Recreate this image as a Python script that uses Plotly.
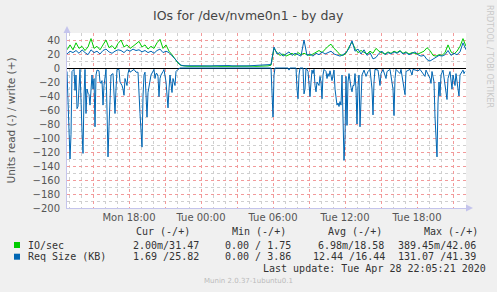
import numpy as np
import pandas as pd
import plotly.graph_objects as go

# ---------------- data ----------------
start = pd.Timestamp("2020-04-27 12:50")

# write side (+), sampled every 15 minutes from start
write_io = [26, 33, 26, 36, 28, 31, 25, 30, 42, 28, 31, 26, 33, 40, 29, 32, 27, 35, 40, 30,
            33, 28, 31, 35, 38, 30, 33, 27, 31, 28, 36, 41, 28, 33, 24, 19, 12, 7, 3.5,
            2.5, 2.6, 2.4, 2.5, 2.7, 2.5, 2.4, 2.6, 2.5, 2.3, 2.5, 2.6, 2.4, 2.5, 2.5, 2.7,
            2.4, 2.5, 2.6, 2.4, 2.5, 2.3, 2.5, 2.6, 2.4, 2.5, 2.6, 2.8, 3.0, 4,
            28, 22, 18, 20, 17, 19, 21, 18, 22, 19, 21, 19, 18, 20, 23, 25, 22, 27, 31, 34,
            28, 24, 19, 18, 21, 30, 37, 28, 22, 25, 23, 20, 24, 21, 28, 24, 22, 20, 23, 21,
            24, 22, 25, 21, 23, 20, 22, 21, 20, 22, 24, 29, 25, 18, 17, 19, 18, 22, 33, 23,
            20, 24, 31, 42, 31]
write_req = [20, 24, 22, 25, 21, 26, 22, 19, 26, 22, 24, 20, 25, 27, 23, 21, 24, 26, 25, 22,
             26, 24, 27, 25, 26, 23, 25, 22, 24, 21, 25, 27, 22, 24, 22, 18, 13, 8, 4,
             3.2, 3.4, 3.1, 3.3, 3.5, 3.2, 3.1, 3.4, 3.3, 3.0, 3.2, 3.4, 3.1, 3.3, 3.2, 3.5,
             3.1, 3.3, 3.4, 3.2, 3.3, 3.1, 3.2, 3.4, 3.2, 3.3, 3.5, 3.6, 3.8, 5,
             30, 20, 22, 17, 20, 23, 18, 21, 19, 17, 40, 18, 20, 17, 21, 19, 23, 20, 22, 24,
             20, 18, 17, 19, 22, 28, 39, 24, 27, 20, 26, 18, 22, 13, 15, 21, 24, 19, 22, 20,
             23, 21, 24, 20, 22, 19, 21, 23, 19, 17, 18, 12, 10, 13, 15, 18, 17, 19, 25, 18,
             21, 19, 23, 36, 26]

# read side (-) of request size, sample index in 5-minute steps from start
read_step = [0, 2, 3, 4, 5, 7, 8, 9, 10, 11, 13, 15, 16, 17, 18, 19, 20, 21, 22, 23, 24, 25,
             26, 27, 28, 29, 30, 32, 33, 34, 35, 36, 37, 38, 39, 40, 41, 42, 43, 44, 46, 47,
             48, 49, 50, 52, 53, 55, 56, 57, 58, 59, 60, 61, 62, 63, 65, 67, 69, 71, 73, 74,
             75, 76, 77, 78, 79, 80, 81, 82, 83, 84, 87, 88, 89, 90, 91, 92, 93, 94, 96, 97,
             99, 101, 102, 103, 105, 106, 108, 109, 111, 113, 204, 205, 206, 207, 208, 221,
             222, 223, 229, 230, 231, 232, 233, 236, 237, 238, 239, 241, 242, 243, 244, 245,
             246, 247, 248, 249, 250, 252, 253, 254, 255, 256, 257, 259, 260, 261, 262, 263,
             265, 266, 267, 268, 269, 270, 271, 272, 273, 274, 275, 276, 277, 278, 279, 280,
             281, 282, 283, 284, 285, 286, 287, 288, 289, 290, 291, 292, 293, 294, 295, 297,
             299, 301, 303, 305, 306, 307, 308, 311, 313, 314, 316, 319, 320, 323, 326, 327,
             328, 329, 333, 334, 337, 338, 339, 343, 345, 346, 351, 353, 358, 359, 363, 364,
             365, 367, 368, 369, 370, 371, 372, 373, 374, 376, 379, 380, 381, 383, 385, 386,
             388, 389, 391, 392, 393, 395, 396, 397, 398]
read_req = [-5, -100, -130, -95, -5, -2, -32, -10, -58, -55, -2, -90, -122, -40, -2, -65, -30,
            -36, -38, -53, -25, -10, -30, -15, -84, -10, -3, -4, -20, -22, -18, -53, -25, -10,
            -2, -60, -127, -84, -40, -10, -8, -30, -65, -30, -2, -2, -20, -25, -30, -39, -15,
            -20, -25, -8, -2, -6, -4, -2, -6, -6, -65, -90, -113, -40, -10, -6, -40, -70, -35,
            -27, -15, -10, -2, -15, -8, -8, -12, -41, -15, -10, -5, -2, -20, -57, -30, -10,
            -35, -15, -25, -5, -2, 0, 0, -40, -70, -10, 0, 0, -3, 0, 0, -30, -44, -10, 0, 0,
            -37, -30, 0, -5, -30, -41, -20, -3, -8, -2, -25, -34, -20, -25, -12, -20, -44, -10,
            -2, -5, -15, -8, -12, -4, -18, -8, -3, -30, -45, -53, -50, -55, -48, -53, -10, -60,
            -132, -100, -12, -82, -20, -8, -20, -28, -34, -25, -25, -8, -30, -80, -25, -10,
            -84, -30, -10, -3, -12, -5, -2, -30, -67, -20, -2, -3, -25, -8, -2, -15, -5, -2,
            -30, -68, -15, -2, -8, -2, -25, -38, -5, -2, -10, -2, -4, -2, -12, -3, -15, -22,
            -5, -20, -70, -100, -127, -50, -20, -40, -10, -3, -35, -45, -15, -5, -30, -10,
            -25, -8, -30, -40, -10, -5, -3, -8, -5]

x_labels = ["", "Mon 18:00", "", "Tue 00:00", "", "Tue 06:00", "", "Tue 12:00", "",
            "Tue 18:00", ""]
legend_header = ["Cur (-/+)", "Min (-/+)", "Avg (-/+)", "Max (-/+)"]
legend_rows = [
    ("IO/sec", ["2.00m/31.47", "0.00 / 1.75", "6.98m/18.58", "389.45m/42.06"]),
    ("Req Size (KB)", ["1.69 /25.82", "0.00 / 3.86", "12.44 /16.44", "131.07 /41.39"]),
]

# ---------------- figure ----------------
GREEN = "#00CC00"
BLUE = "#0066B3"
W, H = 497, 292
L, R, T, B = 67, 466, 33, 208

write_times = start + pd.to_timedelta(np.arange(len(write_io)) * 15, unit="min")
read_times = start + pd.to_timedelta(np.array(read_step) * 5, unit="min")

fig = go.Figure()
fig.add_trace(go.Scatter(x=write_times, y=write_io, mode="lines",
                         line=dict(color=GREEN, width=1), showlegend=False))
fig.add_trace(go.Scatter(x=write_times, y=write_req, mode="lines",
                         line=dict(color=BLUE, width=1), showlegend=False))
fig.add_trace(go.Scatter(x=read_times, y=read_req, mode="lines",
                         line=dict(color=BLUE, width=1), showlegend=False))

def px(x):
    return (x - L) / (R - L)

def py(y):
    return (B - y) / (B - T)

MAJ = "#F29A9A"
MIN = "#CFCFCF"
AXC = "#C4C4EC"
TXT = "#555555"

tickvals = pd.date_range("2020-04-27 15:00", "2020-04-28 21:00", freq="3h")

fig.update_xaxes(
    type="date", range=[start, start + pd.Timedelta(minutes=5 * (R - L))],
    tickmode="array", tickvals=tickvals, ticktext=x_labels,
    showgrid=True, gridcolor=MAJ, griddash="dot", gridwidth=1,
    minor=dict(tickmode="linear", tick0="2020-04-27 00:00", dtick=3600000,
               showgrid=True, gridcolor=MIN, griddash="dot", gridwidth=1),
    showline=True, linecolor=AXC, linewidth=1, zeroline=False,
    ticks="", tickfont=dict(family="DejaVu Sans", size=10, color=TXT),
)
fig.update_yaxes(
    range=[-200, 50], tickmode="linear", tick0=0, dtick=20,
    showgrid=True, gridcolor=MAJ, griddash="dot", gridwidth=1,
    minor=dict(tickmode="linear", tick0=0, dtick=10, showgrid=True,
               gridcolor=MIN, griddash="dot", gridwidth=1),
    showline=True, linecolor=AXC, linewidth=1,
    zeroline=True, zerolinecolor="#000000", zerolinewidth=1,
    ticks="", ticklabelstandoff=4,
    tickfont=dict(family="DejaVu Sans", size=10, color=TXT),
    title=dict(text="Units read (-) / write (+)",
               font=dict(family="DejaVu Sans", size=10.5, color=TXT), standoff=14),
)

ann = []
ann.append(dict(text="IOs for /dev/nvme0n1 - by day", xref="paper", yref="paper",
                x=px(248), y=py(15), xanchor="center", yanchor="middle", showarrow=False,
                font=dict(family="DejaVu Sans", size=12.5, color="#444444")))
ann.append(dict(text="RRDTOOL / TOBI OETIKER", xref="paper", yref="paper",
                x=px(490), y=py(56), xanchor="center", yanchor="middle", showarrow=False,
                textangle=90, font=dict(family="DejaVu Sans", size=8, color="#C8C8C8")))

MONO = dict(family="DejaVu Sans Mono", size=10, color="#333333")
for txt, xx in zip(legend_header, [134, 230, 326, 422]):
    ann.append(dict(text=txt, xref="paper", yref="paper", x=px(xx), y=py(231.5),
                    xanchor="left", yanchor="middle", showarrow=False, font=MONO))
col_x = [[131, 223, 316, 396], [131, 223, 311, 396]]
row_y = [245, 256.7]
for (name, vals), cx, ry in zip(legend_rows, col_x, row_y):
    ann.append(dict(text=name, xref="paper", yref="paper", x=px(26), y=py(ry),
                    xanchor="left", yanchor="middle", showarrow=False, font=MONO))
    for v, xx in zip(vals, cx):
        ann.append(dict(text=v, xref="paper", yref="paper", x=px(xx), y=py(ry),
                        xanchor="left", yanchor="middle", showarrow=False, font=MONO))
ann.append(dict(text="Last update: Tue Apr 28 22:05:21 2020", xref="paper", yref="paper",
                x=px(261), y=py(268.3), xanchor="left", yanchor="middle", showarrow=False,
                font=MONO))
ann.append(dict(text="Munin 2.0.37-1ubuntu0.1", xref="paper", yref="paper",
                x=px(248), y=py(281), xanchor="center", yanchor="middle", showarrow=False,
                font=dict(family="DejaVu Sans", size=7, color="#BBBBBB")))

shapes = []
for color, ry in zip([GREEN, BLUE], row_y):
    shapes.append(dict(type="rect", xref="paper", yref="paper",
                       x0=px(14), x1=px(20), y0=py(ry + 3), y1=py(ry - 3),
                       fillcolor=color, line=dict(width=0)))
# axis arrows
shapes.append(dict(type="path", xref="paper", yref="paper",
                   path=f"M {px(63.5)} {py(33)} L {px(70.5)} {py(33)} L {px(67)} {py(26)} Z",
                   fillcolor=AXC, line=dict(width=0)))
shapes.append(dict(type="path", xref="paper", yref="paper",
                   path=f"M {px(466)} {py(204.5)} L {px(466)} {py(211.5)} L {px(473)} {py(208)} Z",
                   fillcolor=AXC, line=dict(width=0)))

fig.update_layout(
    width=W, height=H, autosize=False,
    margin=dict(l=L, r=W - R, t=T, b=H - B, pad=0),
    paper_bgcolor="#F0F0F0", plot_bgcolor="#FFFFFF",
    annotations=ann, shapes=shapes, showlegend=False,
)

fig.write_html("out.html")
